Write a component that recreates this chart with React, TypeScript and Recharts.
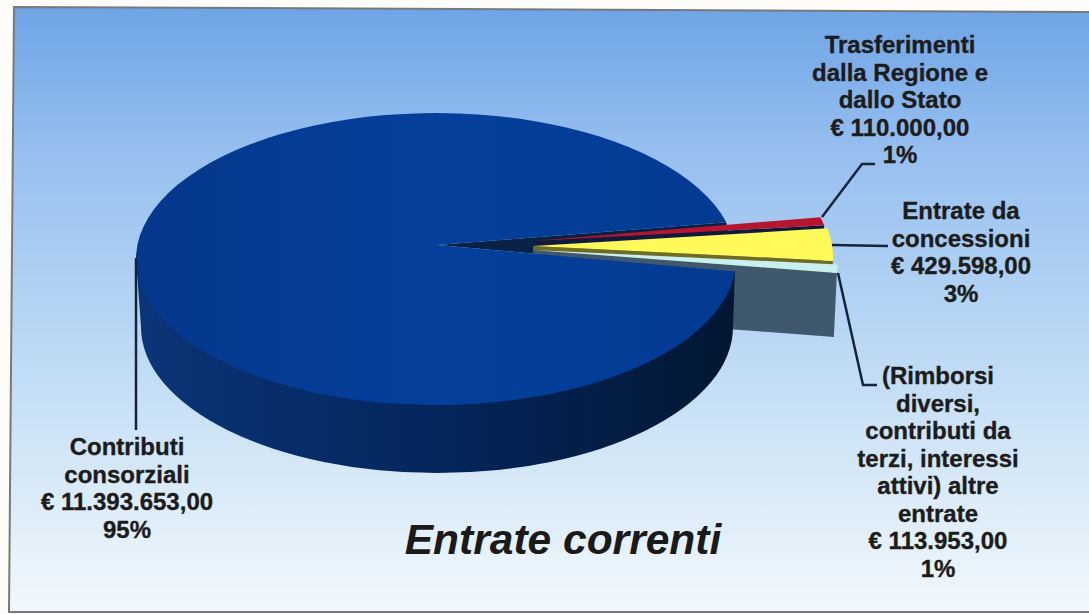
import React from "react";
import { PieChart, Pie } from "recharts";

const sliceKeys = ["trasferimenti", "concessioni", "rimborsi", "contributi"];
const sliceValues = [110000, 429598, 113953, 11393653];
const sliceNames = [
  ["Trasferimenti", "dalla Regione e", "dallo Stato"],
  ["Entrate da", "concessioni"],
  ["(Rimborsi", "diversi,", "contributi da", "terzi, interessi", "attivi) altre", "entrate"],
  ["Contributi", "consorziali"],
];
const sliceAmounts = ["€ 110.000,00", "€ 429.598,00", "€ 113.953,00", "€ 11.393.653,00"];
const slicePercents = ["1%", "3%", "1%", "95%"];
const title = "Entrate correnti";

const data = sliceKeys.map((key, i) => ({ key, value: sliceValues[i] }));
const W = 1089;
const H = 614;
const FONT = "'Liberation Sans', Arial, sans-serif";
const CX = 436;
const CY = 259;
const RX = 300;
const RY = 146;
const START = 14.6;
const mainShare = sliceValues[3] / sliceValues.reduce((a, b) => a + b, 0);
const GAP_END = START - 360 * (1 - mainShare);

const tops = ["#b5152f", "#fff95a", "#c9eff0", "url(#mainTop)"];
const walls = ["#101a3c", "#6e6b22", "#3f586e", "url(#mainSide)"];
const offsets = [
  { dx: 94, dy: -5, tipX: 533, tipY: 241 },
  { dx: 97, dy: -2, tipX: 533, tipY: 246 },
  { dx: 102, dy: 1.5, tipX: 533, tipY: 250 },
];
const wallDepth = 64;
const labelPos = [
  { x: 900, y: 53, line: "M822 217 L862 164 L875 164" },
  { x: 961, y: 219, line: "M832 245 L888 246" },
  { x: 938, y: 384, line: "M838 273 L863 385 L877 385" },
  { x: 127, y: 455, line: "M136 258 L136 430" },
];
const LINE_H = 27.5;

const rad = (d: number) => (d * Math.PI) / 180;
const pt = (cx: number, cy: number, a: number) => ({
  x: cx + RX * Math.cos(rad(a)),
  y: cy - RY * Math.sin(rad(a)),
});

function SliceShape(props: any) {
  const { cx, cy, startAngle, endAngle, index } = props;
  if (index === 3) {
    const a = pt(cx, cy, startAngle);
    const b = pt(cx, cy, endAngle);
    const top = `M437 245 L${a.x} ${a.y} A${RX} ${RY} 0 1 1 ${b.x} ${b.y} Z`;
    const side = `M${cx - RX} ${cy} L141 327 A296 146 0 0 0 733 327 L${a.x} ${a.y} Z`;
    return (
      <g>
        <path d={side} fill={walls[3]} />
        <path d={top} fill={tops[3]} />
      </g>
    );
  }
  const o = offsets[index];
  const a = pt(cx + o.dx, cy + o.dy, startAngle);
  const b = pt(cx + o.dx, cy + o.dy, endAngle);
  const g1 = pt(cx, cy, START);
  const g2 = pt(cx, cy, GAP_END);
  return (
    <g>
      {index === 0 && <path d={`M437 245 L${g1.x} ${g1.y} L${g2.x} ${g2.y} Z`} fill="#0a2146" />}
      <path
        d={`M${o.tipX} ${o.tipY} L${b.x} ${b.y} L${b.x - 3} ${b.y + wallDepth} L${o.tipX} ${o.tipY + wallDepth} Z`}
        fill={walls[index]}
      />
      <path d={`M${o.tipX} ${o.tipY} L${a.x} ${a.y} A${RX} ${RY} 0 0 1 ${b.x} ${b.y} Z`} fill={tops[index]} />
    </g>
  );
}

function SliceLabel(props: any) {
  const { index } = props;
  const p = labelPos[index];
  const lines = [...sliceNames[index], sliceAmounts[index], slicePercents[index]];
  return (
    <g>
      <path d={p.line} fill="none" stroke="#14243c" strokeWidth={2.5} />
      <text
        x={p.x}
        y={p.y}
        textAnchor="middle"
        fontFamily={FONT}
        fontWeight={700}
        fontSize={24}
        fill="#1c1c1c"
        stroke="#1c1c1c"
        strokeWidth={0.35}
      >
        {lines.map((l, i) => (
          <tspan key={i} x={p.x} y={p.y + i * LINE_H}>
            {l}
          </tspan>
        ))}
      </text>
    </g>
  );
}

export default function App() {
  return (
    <div style={{ position: "absolute", left: 0, top: 0, width: W, height: H, background: "#fdfcf9", overflow: "hidden" }}>
      <svg width={W} height={H} style={{ position: "absolute", left: 0, top: 0 }}>
        <defs>
          <linearGradient id="bg" x1="0" y1="0" x2="0" y2="1">
            <stop offset="0" stopColor="#6ea4e6" />
            <stop offset="0.25" stopColor="#98c0ef" />
            <stop offset="0.5" stopColor="#b4d4f4" />
            <stop offset="0.75" stopColor="#d4e7f7" />
            <stop offset="1" stopColor="#f2f8fc" />
          </linearGradient>
        </defs>
        <polygon points="14,7 1092,12 1092,612 9,612" fill="url(#bg)" stroke="#77797c" strokeWidth={2} />
      </svg>
      <div style={{ position: "absolute", left: 0, top: 0 }}>
        <PieChart width={W} height={H} margin={{ top: 0, right: 0, bottom: 0, left: 0 }}>
          <defs>
            <linearGradient id="mainTop" x1="0" y1="0" x2="1" y2="0">
              <stop offset="0" stopColor="#05378b" />
              <stop offset="0.5" stopColor="#04409c" />
              <stop offset="1" stopColor="#033a92" />
            </linearGradient>
            <linearGradient id="mainSide" x1="0" y1="0" x2="1" y2="0">
              <stop offset="0" stopColor="#0a3578" />
              <stop offset="0.5" stopColor="#04265c" />
              <stop offset="1" stopColor="#031733" />
            </linearGradient>
          </defs>
          <Pie
            data={data}
            dataKey="value"
            nameKey="key"
            cx={CX}
            cy={CY}
            innerRadius={0}
            outerRadius={RX}
            startAngle={START}
            endAngle={START - 360}
            paddingAngle={0}
            stroke="none"
            isAnimationActive={false}
            shape={SliceShape}
            label={SliceLabel}
            labelLine={false}
          />
          <text
            x={563}
            y={554}
            textAnchor="middle"
            fontFamily={FONT}
            fontWeight={700}
            fontStyle="italic"
            fontSize={42.5}
            fill="#1a1a1a"
          >
            {title}
          </text>
        </PieChart>
      </div>
    </div>
  );
}
